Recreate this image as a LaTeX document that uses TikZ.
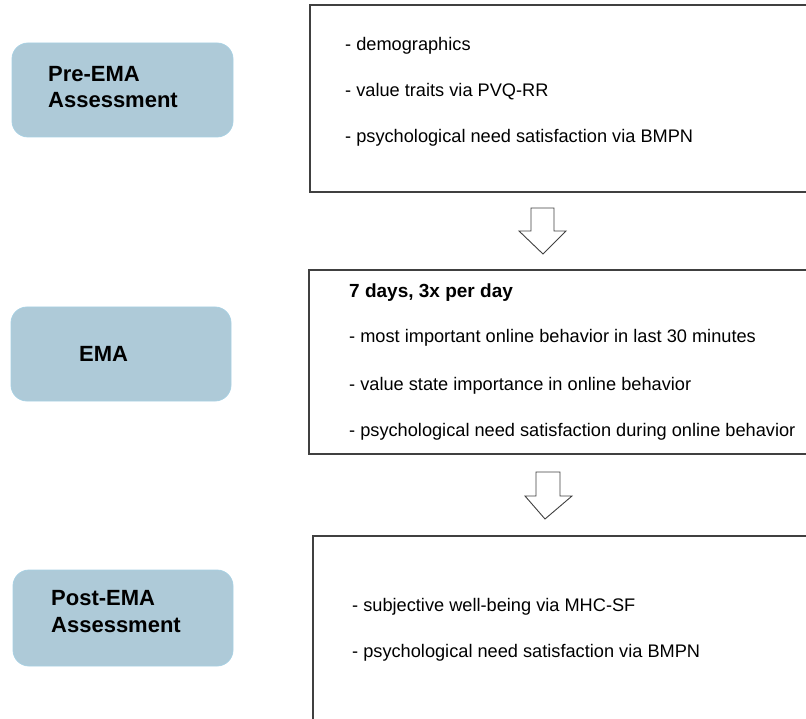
\documentclass[tikz,border=0pt]{standalone}
\usepackage{fontspec}
\setmainfont{Liberation Sans}
\definecolor{stagefill}{RGB}{174,202,216}
\definecolor{stageline}{RGB}{168,208,226}
\definecolor{boxline}{RGB}{64,64,64}
\tikzset{
  stagebox/.style={fill=stagefill, draw=stageline, line width=0.8pt, rounded corners=16pt},
  infobox/.style={draw=boxline, line width=1.3pt},
  blockarrow/.style={draw=boxline, line width=0.9pt, fill=white, line join=miter},
  body/.style={anchor=base west, inner sep=0pt, font=\fontsize{18.2}{21}\selectfont},
  bodyhead/.style={anchor=base west, inner sep=0pt, font=\fontsize{19}{22}\selectfont\bfseries},
  stagetext/.style={anchor=base west, inner sep=0pt, font=\fontsize{22}{26}\selectfont\bfseries},
}
\begin{document}
\begin{tikzpicture}[x=1pt,y=-1pt]
\useasboundingbox (0,0) rectangle (806,719);
\clip (0,0) rectangle (806,719);
% stage boxes
\draw[stagebox] (12,43) rectangle (233,137);
\node[stagetext] (pre1) at (48,81.5) {Pre-EMA};
\node[stagetext] (pre2) at (48,108) {Assessment};
\draw[stagebox] (11,307) rectangle (231,401);
\node[stagetext] (ema) at (79,362) {EMA};
\draw[stagebox] (13,570) rectangle (233,666);
\node[stagetext] (post1) at (51,605) {Post-EMA};
\node[stagetext] (post2) at (51,632.5) {Assessment};
% info boxes
\draw[infobox] (310,5) rectangle (815,192);
\node[body] (a1) at (345,50.5) {- demographics};
\node[body] (a2) at (345,96.5) {- value traits via PVQ-RR};
\node[body] (a3) at (345,143) {- psychological need satisfaction via BMPN};
\draw[infobox] (309,270) rectangle (815,454);
\node[bodyhead] (b0) at (349,298) {7 days, 3x per day};
\node[body] (b1) at (349,343) {- most important online behavior in last 30 minutes};
\node[body] (b2) at (349,390) {- value state importance in online behavior};
\node[body] (b3) at (349,436) {- psychological need satisfaction during online behavior};
\draw[infobox] (313,536) rectangle (815,730);
\node[body] (c1) at (352,611) {- subjective well-being via MHC-SF};
\node[body] (c2) at (352,657) {- psychological need satisfaction via BMPN};
% block arrows
\draw[blockarrow] (531,208) -- (554,208) -- (554,231) -- (566,231) -- (543,254) -- (519,231) -- (531,231) -- cycle;
\draw[blockarrow] (536,472) -- (560,472) -- (560,496) -- (572,496) -- (545,519) -- (525,496) -- (536,496) -- cycle;
\end{tikzpicture}
\end{document}
